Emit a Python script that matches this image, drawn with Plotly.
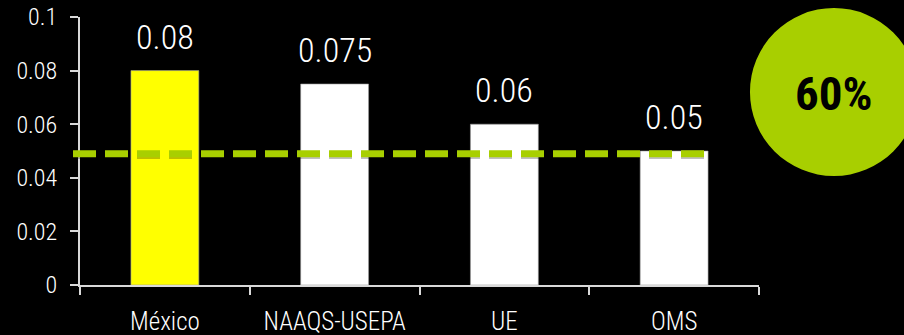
import plotly.graph_objects as go

# Ozone limit values by standard (ppm)
categories = ["México", "NAAQS-USEPA", "UE", "OMS"]
values = [0.08, 0.075, 0.06, 0.05]
bar_colors = ["#FFFF00", "#FFFFFF", "#FFFFFF", "#FFFFFF"]
y_ticks = [0, 0.02, 0.04, 0.06, 0.08, 0.1]
y_tick_labels = ["0", "0.02", "0.04", "0.06", "0.08", "0.1"]
reference_level = 0.049
badge_text = "60%"

FONT = "Roboto Condensed, Liberation Sans Narrow, Arial Narrow, sans-serif"
GREEN = "#A8CF00"
AXIS = "#D9D9D9"

fig = go.Figure()
fig.add_trace(go.Bar(
    x=categories, y=values, width=0.4,
    marker=dict(color=bar_colors, line=dict(color="#9a9a9a", width=0.6)),
    hoverinfo="skip", showlegend=False,
))

# value labels above each bar
for c, v in zip(categories, values):
    fig.add_annotation(x=c, y=v, xref="x", yref="y", text=f"{v:g}",
                       showarrow=False, yanchor="bottom", yshift=12,
                       font=dict(family=FONT, size=34, color="white", weight=300))

# dashed reference line with a soft shadow under it
fig.add_shape(type="line", xref="paper", yref="y", x0=-0.0103, x1=0.9205,
              y0=reference_level - 0.0007, y1=reference_level - 0.0007,
              line=dict(color="rgba(0,0,0,0.25)", width=7, dash="23px,9px"), layer="above")
fig.add_shape(type="line", xref="paper", yref="y", x0=-0.0103, x1=0.9205,
              y0=reference_level, y1=reference_level,
              line=dict(color=GREEN, width=7, dash="23px,9px"), layer="above")

# green badge
fig.add_shape(type="circle", xref="paper", yref="paper",
              x0=0.9867, x1=1.234, y0=0.4067, y1=1.0336,
              fillcolor=GREEN, line=dict(width=0), layer="above")
fig.add_annotation(xref="paper", yref="paper", x=1.1105, y=0.716, text=f"<b>{badge_text}</b>",
                   showarrow=False, xanchor="center", yanchor="middle",
                   font=dict(family=FONT, size=47, color="black"))

fig.update_layout(
    width=904, height=335,
    margin=dict(l=80, r=145, t=17, b=50, autoexpand=False),
    paper_bgcolor="black", plot_bgcolor="black",
    font=dict(family=FONT, color="white", weight=300),
    bargap=0.6,
)
fig.update_xaxes(
    range=[-0.5, 3.5], showgrid=False, showline=True, linecolor=AXIS, linewidth=2,
    ticks="outside", tickson="boundaries", ticklen=8, tickcolor=AXIS, tickwidth=2,
    tickfont=dict(family=FONT, size=25, color="white", weight=300), zeroline=False,
    automargin=False, ticklabelstandoff=13,
)
fig.update_yaxes(
    range=[0, 0.1], showgrid=False, showline=True, linecolor=AXIS, linewidth=2,
    ticks="outside", ticklen=8, tickcolor=AXIS, tickwidth=2,
    tickvals=y_ticks, ticktext=y_tick_labels,
    tickfont=dict(family=FONT, size=24, color="white", weight=300), zeroline=False,
    automargin=False, ticklabelstandoff=8,
)

fig.write_html("out.html")
